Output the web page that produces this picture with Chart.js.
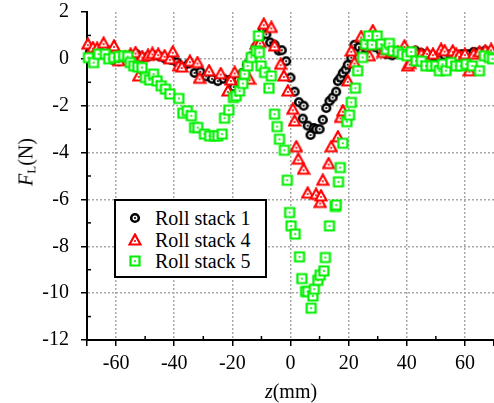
<!DOCTYPE html>
<html lang="en">
<head>
  <meta charset="UTF-8">
  <title>F_L vs z</title>
  <script src="https://cdn.jsdelivr.net/npm/chart.js"></script>
  <style>
    body {
      margin: 0;
      background: #fff;
      font-family: "Liberation Serif", Tinos, "DejaVu Serif", "Noto Serif", serif;
    }
    #wrap {
      position: relative;
      width: 494px;
      height: 403px;
    }
    .title {
      position: absolute;
      font-size: 20px;
      color: #000;
      white-space: nowrap;
      transform: translate(-50%, -50%);
    }
    .title sub {
      font-size: 13px;
      vertical-align: -3px;
    }
    #legend {
      position: absolute;
      left: 114px;
      top: 199px;
      width: 149px;
      height: 75px;
      border: 2px solid #000;
      background: #fff;
      font-size: 20px;
    }
    .row {
      position: absolute;
      left: 0;
      height: 22px;
      line-height: 22px;
    }
    .row img {
      position: absolute;
      left: 19px;
      top: 11px;
      transform: translate(-50%, -50%);
    }
    .row span {
      position: absolute;
      left: 39px;
      top: 0;
      white-space: nowrap;
    }
  </style>
</head>
<body>
  <div id="wrap">
    <canvas id="chart" width="494" height="403"></canvas>
    <div class="title" style="left:27px; top:162px; transform:translate(-50%,-50%) rotate(-90deg);"><i>F</i><sub>L</sub>(N)</div>
    <div class="title" style="left:291px; top:391px;"><i>z</i>(mm)</div>
    <div id="legend"></div>
  </div>

  <script>
    // tick positions
    const X_TICKS = [-60, -40, -20, 0, 20, 40, 60];
    const Y_TICKS = [2, 0, -2, -4, -6, -8, -10, -12];
    const X_MINOR = [-50, -30, -10, 10, 30, 50];
    const Y_MINOR = [1, -1, -3, -5, -7, -9, -11];

    const LABELS = ['Roll stack 1', 'Roll stack 4', 'Roll stack 5'];

    // [z (mm), F_L (N)]
    const ROLL1 = [
      [-69, 0.3], [-67, 0.15], [-65, 0.25], [-63, 0.2], [-61, -0.05], [-59, -0.1], [-57, 0.1], [-55, 0.15],
      [-53, 0.2], [-51, 0.05], [-49, 0.1], [-47, 0.15], [-45, 0.1], [-43, 0.0], [-41, -0.05], [-39, -0.15],
      [-37, -0.35], [-35, -0.2], [-33, -0.6], [-31, -0.55], [-29, -0.75], [-27, -0.85], [-25, -0.95], [-23, -0.85],
      [-21, -0.9], [-19.5, -1.2], [-18, -0.9], [-16.5, -0.6], [-15, -0.25], [-13.5, 0.1], [-12, 0.5], [-10.5, 0.9],
      [-9.5, 1.25], [-8.3, 1.05], [-7, 0.7], [-5.5, 0.6], [-4, 0.35], [-3, 0.37], [-1.5, -0.1], [0, -0.8],
      [1.4, -1.4], [2.9, -1.85], [4.2, -2.55], [4.5, -2.0], [5.9, -2.85], [6.9, -3.25], [8, -2.95], [8.8, -3.0],
      [10, -3.0], [11.1, -2.6], [12.3, -2.1], [13.4, -1.8], [14.5, -1.65], [15.7, -1.4], [16.3, -0.95], [17.2, -0.8],
      [18, -0.6], [19, -0.45], [19.7, -0.25], [20.9, 0.05], [22, 0.6], [23.5, 0.5], [24.5, 0.3], [26, 0.45],
      [27.7, 0.6], [29, 0.5], [31, 0.35], [33, 0.2], [35, 0.15], [37, 0.25], [39.5, 0.35], [41.5, 0.3],
      [43, 0.35], [45, 0.25], [47, 0.2], [49, -0.2], [51, 0.1], [53, 0.15], [55, 0.2], [57, 0.15],
      [59, 0.2], [61, 0.2], [63, 0.3], [65, 0.3], [67, 0.35], [69, 0.3]
    ];
    const ROLL4 = [
      [-69.7, 0.63], [-68, 0.48], [-66.5, 0.45], [-64.3, 0.67], [-62.5, 0.3], [-60.7, 0.55], [-59, -0.08], [-57, 0.1],
      [-55, 0.2], [-53.3, 0.27], [-52.2, -0.73], [-51, 0.1], [-49, 0.15], [-47.5, 0.23], [-45.5, 0.2], [-43.3, 0.13],
      [-41.5, 0.0], [-40.5, 0.3], [-38.5, -0.3], [-37.4, -0.35], [-34.6, -0.1], [-32, -0.16], [-31.3, -0.83], [-28, -0.51],
      [-24, -0.63], [-21.5, -1.37], [-20.5, -0.9], [-19.2, -0.58], [-17, -0.9], [-14.1, -0.87], [-11.8, 0.63], [-10.5, 0.7],
      [-9.2, 1.48], [-6.6, 1.34], [-5.5, 0.55], [-3.4, -0.23], [-2.3, -0.73], [-0.9, -1.37], [0.8, -2.15], [1.4, -2.65],
      [2, -3.75], [2.7, -4.28], [4.5, -4.71], [5.9, -5.73], [8.8, -5.78], [10.2, -6.13], [10.5, -5.85], [11.1, -5.18],
      [13.1, -4.47], [14, -3.75], [16.3, -3.33], [17.2, -2.5], [18, -2.22], [19.7, -0.94], [20.9, 0.34], [22, -0.16],
      [24.3, 0.95], [26, 0.6], [27.1, 0.13], [28.3, 1.2], [30, 0.6], [31.7, 0.27], [33, 0.4], [35, 0.3],
      [37, 0.3], [39.2, 0.55], [40.3, -0.3], [41, -0.2], [43, 0.3], [45, 0.2], [47, 0.25], [49, 0.2],
      [51.8, 0.41], [53, 0.35], [55.8, 0.34], [57, 0.2], [58, 0.13], [60, 0.2], [61.5, -0.51], [63, 0.2],
      [65, 0.3], [67, 0.35], [69, 0.4]
    ];
    const ROLL5 = [
      [-69.5, 0.05], [-67.7, -0.16], [-66, 0.2], [-63.7, 0.2], [-62.5, 0.0], [-60.8, 0.06], [-59, 0.1], [-57.4, 0.13],
      [-56, 0.1], [-55.1, -0.16], [-53.9, -0.3], [-52.5, -0.35], [-51.1, -0.37], [-49.9, -0.8], [-48.5, -0.9], [-47.1, -0.65],
      [-45.9, -0.94], [-44.5, -1.15], [-43, -1.29], [-41.5, -1.5], [-38.4, -1.69], [-37, -2.32], [-35.5, -2.22], [-34.1, -2.43],
      [-33, -2.93], [-31.9, -2.93], [-29.6, -3.21], [-27.8, -3.29], [-26.1, -3.29], [-25, -3.29], [-23.5, -3.21], [-22.7, -2.53],
      [-21.2, -2.19], [-19.6, -1.65], [-18.7, -1.58], [-17.5, -1.37], [-16.4, -1.05], [-15.8, -0.65], [-14.7, -0.3], [-13.5, 0.06],
      [-11.8, 0.34], [-10.7, 0.27], [-11, 0.98], [-10.1, -0.3], [-8.9, -0.58], [-7.4, -1.25], [-6.6, -0.73], [-5.5, -2.36],
      [-4.6, -2.89], [-3.8, -3.43], [-2.1, -3.9], [-1.1, -5.18], [-0.3, -6.56], [0.2, -7.13], [1.6, -7.48], [3.1, -8.45],
      [3.9, -9.38], [5.2, -9.93], [5.9, -9.93], [7.1, -10.64], [7.7, -10.12], [8.2, -9.83], [9.4, -9.45], [10.2, -9.23],
      [11.5, -9.05], [12, -8.48], [13.4, -7.13], [15.4, -6.3], [15.7, -6.24], [16.5, -5.25], [17.1, -4.64], [18, -3.6],
      [19.4, -2.68], [20.3, -2.4], [20.9, -1.86], [22.3, -1.25], [23.1, -0.51], [24.8, 0.06], [25.8, 0.63], [26.9, 0.98],
      [28, 0.6], [29.8, 0.98], [31.2, 0.63], [33, 0.4], [34, 0.66], [35.2, 0.34], [37, 0.3], [38.5, 0.2],
      [40.1, 0.13], [41.5, 0.3], [43.2, -0.09], [45, -0.1], [46.6, -0.3], [48.5, -0.3], [50, -0.3], [51.2, -0.51],
      [52.3, -0.23], [53.5, -0.5], [55.2, -0.16], [56.9, -0.3], [58.5, -0.3], [60.4, -0.23], [62.5, -0.3], [65, -0.51],
      [66.7, 0.13], [68.4, 0.06], [69.5, 0.0]
    ];

    // open markers with a dot in the middle
    function makeMarker(shape, color) {
      const c = document.createElement('canvas');
      c.width = 14;
      c.height = 14;
      const g = c.getContext('2d');
      g.lineWidth = shape === 'circle' ? 2.6 : 2.2;
      g.strokeStyle = color;
      g.fillStyle = '#fff';
      g.beginPath();
      if (shape === 'circle') {
        g.arc(7, 7, 3.8, 0, Math.PI * 2);
      } else if (shape === 'triangle') {
        g.moveTo(7, 1.5);
        g.lineTo(12.5, 11.5);
        g.lineTo(1.5, 11.5);
        g.closePath();
      } else {
        g.rect(2.5, 2.5, 9, 9);
      }
      g.fill();
      g.stroke();
      g.fillStyle = color;
      g.beginPath();
      g.arc(7, shape === 'triangle' ? 8 : 7, 1.1, 0, Math.PI * 2);
      g.fill();
      return c;
    }

    const markers = [
      makeMarker('circle', '#000000'),
      makeMarker('triangle', '#ff0000'),
      makeMarker('square', '#00f000')
    ];

    const toPoints = arr => arr.map(p => ({ x: p[0], y: p[1] }));

    // minor ticks point inward
    const minorTicks = {
      id: 'minorTicks',
      beforeDatasetsDraw(chart) {
        const { ctx, scales: { x, y } } = chart;
        ctx.save();
        ctx.strokeStyle = '#000';
        ctx.lineWidth = 1.5;
        X_MINOR.forEach(v => {
          const px = x.getPixelForValue(v);
          ctx.beginPath();
          ctx.moveTo(px, y.bottom);
          ctx.lineTo(px, y.bottom - 4);
          ctx.stroke();
        });
        Y_MINOR.forEach(v => {
          const py = y.getPixelForValue(v);
          ctx.beginPath();
          ctx.moveTo(x.left, py);
          ctx.lineTo(x.left + 4, py);
          ctx.stroke();
        });
        ctx.restore();
      }
    };

    const gridColor = edges => c => (c.tick && edges.includes(c.tick.value)) ? 'rgba(0,0,0,0)' : '#a8a8a8';

    Chart.defaults.font.family = '"Liberation Serif", Tinos, "DejaVu Serif", "Noto Serif", serif';
    Chart.defaults.font.size = 20;
    Chart.defaults.color = '#000';

    const ctx = document.getElementById('chart').getContext('2d');
    new Chart(ctx, {
      type: 'scatter',
      data: {
        datasets: [ROLL1, ROLL4, ROLL5].map((d, i) => ({
          label: LABELS[i],
          data: toPoints(d),
          pointStyle: markers[i],
          pointRadius: 5,
          clip: false,
          order: 2 - i
        }))
      },
      options: {
        responsive: false,
        animation: false,
        layout: { autoPadding: false, padding: { top: 12, left: 0, right: 0, bottom: 0 } },
        plugins: {
          legend: { display: false },
          tooltip: { enabled: false }
        },
        scales: {
          x: {
            type: 'linear',
            min: -70,
            max: 70,
            afterBuildTicks: s => { s.ticks = [-70, ...X_TICKS, 70].map(v => ({ value: v })); },
            afterFit: s => { s.height = 63; s.paddingLeft = 0; s.paddingRight = 0; },
            ticks: {
              autoSkip: false,
              maxRotation: 0,
              padding: 6,
              callback: v => X_TICKS.includes(v) ? String(v) : ''
            },
            grid: {
              color: gridColor([-70, 70]),
              lineWidth: 1.5,
              tickColor: '#000',
              tickWidth: 1.5,
              tickLength: 6
            },
            border: { color: '#000', width: 2, dash: [2, 2] }
          },
          y: {
            type: 'linear',
            min: -12,
            max: 2,
            afterBuildTicks: s => { s.ticks = Y_TICKS.map(v => ({ value: v })); },
            afterFit: s => { s.width = 87; s.paddingTop = 0; s.paddingBottom = 0; },
            ticks: {
              autoSkip: false,
              padding: 12,
              callback: v => String(v)
            },
            grid: {
              color: gridColor([2, -12]),
              lineWidth: 1.5,
              tickColor: '#000',
              tickWidth: 1.5,
              tickLength: 6
            },
            border: { color: '#000', width: 2, dash: [2, 2] }
          }
        }
      },
      plugins: [minorTicks]
    });

    // legend box drawn in html
    const legend = document.getElementById('legend');
    LABELS.forEach((name, i) => {
      const row = document.createElement('div');
      row.className = 'row';
      row.style.top = (6 + i * 21.5) + 'px';
      const img = document.createElement('img');
      img.src = markers[i].toDataURL();
      const txt = document.createElement('span');
      txt.textContent = name;
      row.appendChild(img);
      row.appendChild(txt);
      legend.appendChild(row);
    });
  </script>
</body>
</html>
